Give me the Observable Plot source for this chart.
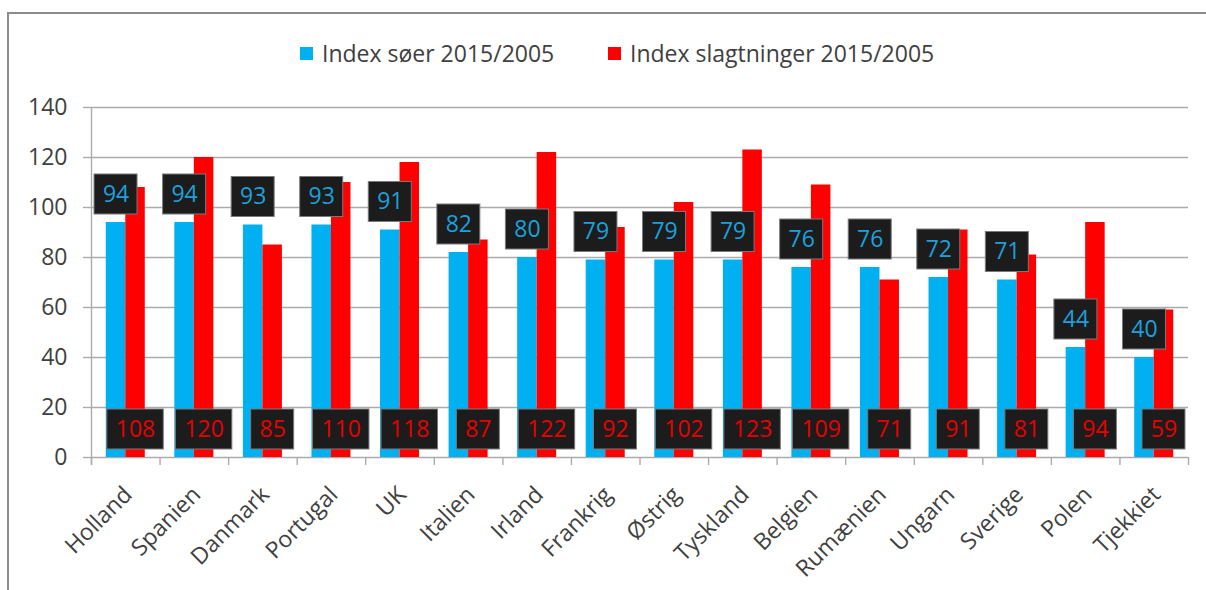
<!DOCTYPE html>
<html><head><meta charset="utf-8">
<script src="https://cdn.jsdelivr.net/npm/d3@7"></script>
<script src="https://cdn.jsdelivr.net/npm/@observablehq/plot@0.6"></script>
<style>
html,body{margin:0;padding:0;background:#fff;}
#wrap{position:relative;width:1206px;height:590px;overflow:hidden;font-family:"Open Sans",sans-serif;background:#fff;}
#frame{position:absolute;left:7px;top:12px;width:1240px;height:640px;border:2px solid #8c8c8c;box-sizing:border-box;}
.leg{position:absolute;top:38px;display:flex;align-items:center;font-size:23px;color:#404040;white-space:nowrap;line-height:31px;}
.sw{display:inline-block;width:13px;height:13px;margin-right:9px;}
#chart{position:absolute;left:0;top:0;}
</style></head>
<body><div id="wrap"><div id="frame"></div>
<div id="legend"></div>
<div id="chart"></div></div>
<script>
const countries = ["Holland","Spanien","Danmark","Portugal","UK","Italien","Irland","Frankrig","Østrig","Tyskland","Belgien","Rumænien","Ungarn","Sverige","Polen","Tjekkiet"];
const soer = [94,94,93,93,91,82,80,79,79,79,76,76,72,71,44,40];
const slagt = [108,120,85,110,118,87,122,92,102,123,109,71,91,81,94,59];
const yTicks = [0,20,40,60,80,100,120,140];
const seriesNames = ["Index søer 2015/2005","Index slagtninger 2015/2005"];
const colors = ["#00B0F0","#FF0000"];
const labelColors = ["#1BA1DC","#E80000"];

const W = 1206, H = 590, mL = 91, mR = 18, mT = 107, mB = 133;
const step = (W - mL - mR) / countries.length;
const barW = 19.5;
const pad = (step - 2 * barW) / 2;
const px = (H - mT - mB) / 140;
const tickLen = 8 / px;
const rows = countries.map((c, i) => ({country: c, soer: soer[i], slagt: slagt[i]}));

// legend
const legLeft = [300, 608];
const legend = document.getElementById("legend");
seriesNames.forEach((n, i) => {
  const d = document.createElement("div");
  d.className = "leg";
  d.style.left = legLeft[i] + "px";
  d.innerHTML = `<span class="sw" style="background:${colors[i]}"></span>${n}`;
  legend.appendChild(d);
});

const grid = "#ababab";
const centerBlue = pad + barW / 2;
const centerRed = pad + barW * 1.5;

const boxMarks = [];
for (const len of [2, 3]) {
  const w = 16 + 13.5 * len;
  boxMarks.push(Plot.barY(rows.filter(d => String(d.soer).length === len), {
    x: "country", y1: "soer", y2: "soer", insetTop: -48, insetBottom: 8,
    insetLeft: centerBlue - w / 2, insetRight: step - centerBlue - w / 2,
    fill: "#1c1c1c", stroke: "#7a7a7a", strokeWidth: 1
  }));
  boxMarks.push(Plot.barY(rows.filter(d => String(d.slagt).length === len), {
    x: "country", y1: 0, y2: 0, insetTop: -48, insetBottom: 8,
    insetLeft: centerRed - w / 2, insetRight: step - centerRed - w / 2,
    fill: "#1c1c1c", stroke: "#7a7a7a", strokeWidth: 1
  }));
}

const chart = Plot.plot({
  width: W, height: H,
  marginLeft: mL, marginRight: mR, marginTop: mT, marginBottom: mB,
  style: {fontFamily: "'Open Sans', sans-serif", fontSize: "23px", background: "transparent"},
  x: {domain: countries, padding: 0, round: false, axis: null},
  y: {domain: [0, 140]},
  marks: [
    Plot.ruleY(yTicks, {stroke: grid, strokeWidth: 1.4}),
    Plot.axisY({ticks: yTicks, tickSize: 8, tickPadding: 16, stroke: grid, strokeWidth: 1.4, fill: "#404040", fontSize: 23, tickFormat: d => d, label: null}),
    Plot.ruleX([countries[0]], {x: d => d, dx: -step / 2, y1: -tickLen, y2: 140, stroke: grid, strokeWidth: 1.4}),
    Plot.ruleX(countries, {x: d => d, dx: -step / 2, y1: -tickLen, y2: 0, stroke: grid, strokeWidth: 1.4}),
    Plot.ruleX([countries[countries.length - 1]], {x: d => d, dx: step / 2, y1: -tickLen, y2: 0, stroke: grid, strokeWidth: 1.4}),
    Plot.barY(rows, {x: "country", y: "soer", fill: colors[0], insetLeft: pad, insetRight: step - pad - barW}),
    Plot.barY(rows, {x: "country", y: "slagt", fill: colors[1], insetLeft: pad + barW, insetRight: pad}),
    ...boxMarks,
    Plot.text(rows, {x: "country", y: "soer", text: d => String(d.soer), dx: centerBlue - step / 2, dy: -28, fill: labelColors[0], fontSize: 23}),
    Plot.text(rows, {x: "country", y: 0, text: d => String(d.slagt), dx: centerRed - step / 2, dy: -28, fill: labelColors[1], fontSize: 23}),
    Plot.text(countries, {x: d => d, frameAnchor: "bottom", text: d => d, dx: -4, dy: 27, rotate: -45, textAnchor: "end", lineAnchor: "top", fill: "#404040", fontSize: 23})
  ]
});
document.getElementById("chart").appendChild(chart);
</script>
</body></html>
